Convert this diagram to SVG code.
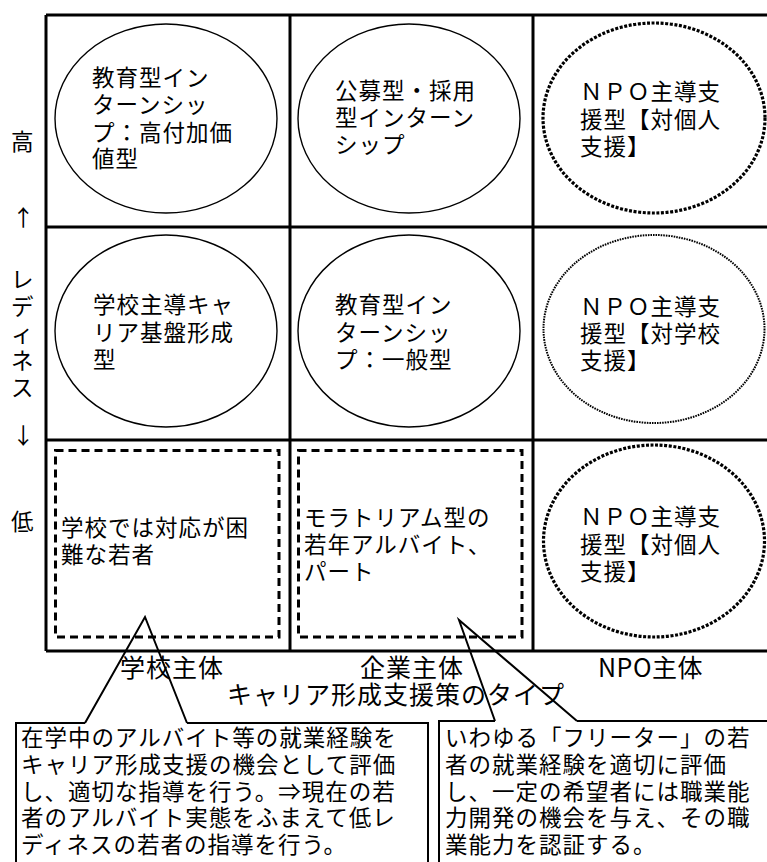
<svg xmlns="http://www.w3.org/2000/svg" width="767" height="862" viewBox="0 0 767 862">
<style>
text{font-family:"Noto Sans CJK JP","Noto Sans",sans-serif;fill:#000}
.t{font-size:22.5px;letter-spacing:1px}
.lab{font-size:25px;letter-spacing:1px}
.grid{stroke:#000;stroke-width:3;fill:none}
.solid{fill:none;stroke:#000;stroke-width:1.4}
.dotA{fill:none;stroke:#000;stroke-width:3.2;stroke-dasharray:3 1.6}
.dotB{fill:none;stroke:#000;stroke-width:2;stroke-dasharray:1.6 1}
.dash{fill:none;stroke:#000;stroke-width:3;stroke-dasharray:8 5}
.call{fill:none;stroke:#000;stroke-width:2}
</style>
<rect width="767" height="862" fill="#fff"/>
<g id="grid" class="grid">
<path d="M46,15 H770 M46,227 H770 M46,440 H770 M46,651 H770 M46,15 V651 M290,15 V651 M533,15 V651"/>
</g>
<g id="axis-y">
<text class="t" x="11" y="150">高</text>
<text class="t" x="12" y="226">↑</text>
<text class="t" x="11" y="288">レ</text>
<text class="t" x="11" y="315">デ</text>
<text class="t" x="11" y="342">ィ</text>
<text class="t" x="11" y="369">ネ</text>
<text class="t" x="11" y="396">ス</text>
<text class="t" x="12" y="444">↓</text>
<text class="t" x="11" y="530">低</text>
</g>
<g id="n-r1c1">
<ellipse class="solid" cx="166" cy="118.5" rx="111" ry="94.5"/>
<text class="t" x="92"><tspan x="92" y="86">教育型イン</tspan><tspan x="92" y="113">ターンシッ</tspan><tspan x="92" y="141">プ：高付加価</tspan><tspan x="92" y="167">値型</tspan></text>
</g>
<g id="n-r1c2">
<ellipse class="solid" cx="409" cy="118.5" rx="111" ry="94.5"/>
<text class="t"><tspan x="335" y="99">公募型・採用</tspan><tspan x="335" y="126">型インターン</tspan><tspan x="335" y="153">シップ</tspan></text>
</g>
<g id="n-r1c3">
<ellipse class="dotA" cx="654" cy="118" rx="111" ry="95"/>
<text class="t"><tspan x="580" y="100">ＮＰＯ主導支</tspan><tspan x="580" y="128">援型【対個人</tspan><tspan x="580" y="155">支援】</tspan></text>
</g>
<g id="n-r2c1">
<ellipse class="solid" cx="166" cy="331" rx="111" ry="96"/>
<text class="t"><tspan x="93" y="313">学校主導キャ</tspan><tspan x="93" y="341">リア基盤形成</tspan><tspan x="93" y="368">型</tspan></text>
</g>
<g id="n-r2c2">
<ellipse class="solid" cx="409" cy="331" rx="111" ry="96"/>
<text class="t"><tspan x="335" y="313">教育型イン</tspan><tspan x="335" y="341">ターンシッ</tspan><tspan x="335" y="368">プ：一般型</tspan></text>
</g>
<g id="n-r2c3">
<ellipse class="dotB" cx="654" cy="329" rx="110.5" ry="94"/>
<text class="t"><tspan x="580" y="315">ＮＰＯ主導支</tspan><tspan x="580" y="342">援型【対学校</tspan><tspan x="580" y="369">支援】</tspan></text>
</g>
<g id="n-r3c1">
<rect class="dash" x="55.5" y="450.5" width="223.5" height="186.5"/>
<text class="t"><tspan x="61" y="536">学校では対応が困</tspan><tspan x="61" y="563">難な若者</tspan></text>
</g>
<g id="n-r3c2">
<rect class="dash" x="298.5" y="450.5" width="223.5" height="186.5"/>
<text class="t"><tspan x="304" y="526">モラトリアム型の</tspan><tspan x="304" y="553">若年アルバイト、</tspan><tspan x="304" y="580">パート</tspan></text>
</g>
<g id="n-r3c3">
<ellipse class="dotA" cx="654" cy="541" rx="110.5" ry="96"/>
<text class="t"><tspan x="580" y="525">ＮＰＯ主導支</tspan><tspan x="580" y="553">援型【対個人</tspan><tspan x="580" y="580">支援】</tspan></text>
</g>
<g id="axis-x">
<text class="lab" x="120" y="677">学校主体</text>
<text class="lab" x="360" y="677">企業主体</text>
<text class="lab" x="598" y="677" style="letter-spacing:0.5px">NPO主体</text>
<text class="lab" x="227" y="704">キャリア形成支援策のタイプ</text>
</g>
<g id="callout-left">
<path class="call" d="M16,862 V723 H85 M187,723 H428 V862"/>
<text class="t"><tspan x="21" y="746">在学中のアルバイト等の就業経験を</tspan><tspan x="21" y="773">キャリア形成支援の機会として評価</tspan><tspan x="21" y="800">し、適切な指導を行う。⇒現在の若</tspan><tspan x="21" y="826">者のアルバイト実態をふまえて低レ</tspan><tspan x="21" y="853">ディネスの若者の指導を行う。</tspan></text>
</g>
<g id="callout-right">
<path class="call" d="M439,862 V721 H495 M577,721 H770"/>
<text class="t"><tspan x="445" y="746">いわゆる「フリーター」の若</tspan><tspan x="445" y="773">者の就業経験を適切に評価</tspan><tspan x="445" y="800">し、一定の希望者には職業能</tspan><tspan x="445" y="826">力開発の機会を与え、その職</tspan><tspan x="445" y="853">業能力を認証する。</tspan></text>
</g>
<g id="connectors">
<path class="call" d="M85,723 L145,617 L187,723" stroke-linejoin="miter"/>
<path class="call" d="M495,721 L459,620 L577,721" stroke-linejoin="miter"/>
</g>
</svg>
